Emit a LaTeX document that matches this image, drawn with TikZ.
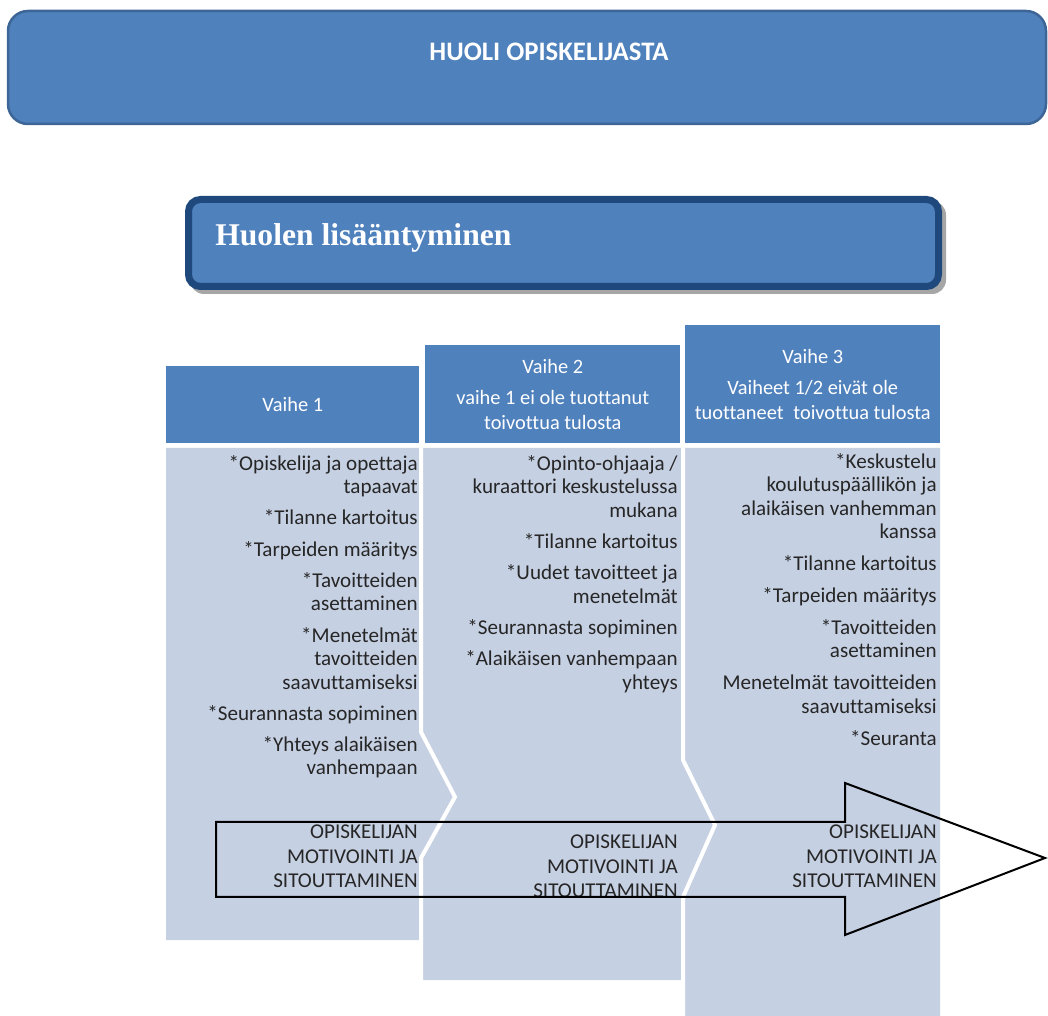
\documentclass[tikz,border=0pt]{standalone}
\usepackage{fontspec}
\setmainfont{Liberation Serif}
\setsansfont{Carlito}[Ligatures=NoCommon]
\usepackage{tikz}
\usetikzlibrary{positioning}

\definecolor{phaseblue}{HTML}{4F81BD}
\definecolor{phaseedge}{HTML}{3D6697}
\definecolor{titledark}{HTML}{1F497D}
\definecolor{bodyblue}{HTML}{C6D0E3}
\definecolor{textgray}{HTML}{262626}
\definecolor{shadowgray}{HTML}{A6A6A6}

\tikzset{
  headbox/.style={fill=phaseblue, text=white, inner sep=0pt, align=center, anchor=north west,
                  font=\sffamily\fontsize{14.5}{17.8}\selectfont},
  itemlist/.style={text=textgray, inner sep=0pt, align=right, anchor=north east,
                   font=\sffamily\fontsize{15}{16.7}\selectfont},
  motivtext/.style={itemlist, font=\sffamily\fontsize{15}{17.4}\selectfont},
  bodyfill/.style={fill=bodyblue, draw=none},
  notchline/.style={draw=white, line width=4*0.025cm}
}

\begin{document}
\begin{tikzpicture}[x=0.025cm, y=-0.025cm]
                    \path[use as bounding box] (0,0) rectangle (1048,1016);

                    \draw[fill=phaseblue, draw=phaseedge, line width=2.5*0.025cm, rounded corners=20*0.025cm]
                        (8,11) rectangle (1046,124);
                    \node[text=white, font=\sffamily\bfseries\fontsize{19}{23}\selectfont] (main) at (549,52) {HUOLI OPISKELIJASTA};

                    \fill[shadowgray, rounded corners=14*0.025cm] (190,201) rectangle (946,294);
                    \draw[fill=phaseblue, draw=titledark, line width=7*0.025cm, rounded corners=12*0.025cm]
                        (188.5,199.5) rectangle (938.5,286.5);
                    \node[anchor=west, inner sep=0pt, text=white, font=\bfseries\fontsize{22.5}{27}\selectfont] (rise) at (215,238) {Huolen lisääntyminen};

                    \path[bodyfill] (166,448) -- (421,448) -- (421,732) -- (455,797) -- (421,858) -- (421,940) -- (166,940) -- cycle;
                    \path[bodyfill] (421,448) -- (683,448) -- (683,760) -- (715,825) -- (683,897) -- (683,980) -- (421,980)
                        -- (421,858) -- (455,797) -- (421,732) -- cycle;
                    \path[bodyfill] (683,448) -- (940,448) -- (940,1016) -- (683,1016) -- (683,897) -- (715,825) -- (683,760) -- cycle;
                    \draw[notchline] (421,448) -- (421,732) -- (455,797) -- (421,858) -- (421,982);
                    \draw[notchline] (683,448) -- (683,760) -- (715,825) -- (683,897) -- (683,1016);

                    \node[headbox, minimum width=253*0.025cm, minimum height=77*0.025cm] (head1) at (166,366) {Vaihe 1};
                    \node[headbox, minimum width=255*0.025cm, minimum height=98*0.025cm] (head2) at (425,345)
                        {Vaihe 2\\[4pt] vaihe 1 ei ole tuottanut\\ toivottua tulosta};
                    \node[headbox, minimum width=255*0.025cm, minimum height=118*0.025cm] (head3) at (685,325)
                        {Vaihe 3\\[4pt] Vaiheet 1/2 eivät ole\\ tuottaneet\hspace{0.25em} toivottua tulosta};

                    \node[itemlist] (list1) at (418,455)
                        {*Opiskelija ja opettaja\\ tapaavat\\[5.5pt] *Tilanne kartoitus\\[5.5pt] *Tarpeiden määritys\\[5.5pt]
                         *Tavoitteiden\\ asettaminen\\[5.5pt] *Menetelmät\\ tavoitteiden\\ saavuttamiseksi\\[5.5pt]
                         *Seurannasta sopiminen\\[5.5pt] *Yhteys alaikäisen\\ vanhempaan};
                    \node[itemlist] (list2) at (678,455)
                        {*Opinto-ohjaaja /\\ kuraattori keskustelussa\\ mukana\\[5.5pt] *Tilanne kartoitus\\[5.5pt]
                         *Uudet tavoitteet ja\\ menetelmät\\[5.5pt] *Seurannasta sopiminen\\[5.5pt]
                         *Alaikäisen vanhempaan\\ yhteys};
                    \node[itemlist] (list3) at (937,453)
                        {*Keskustelu\\ koulutuspäällikön ja\\ alaikäisen vanhemman\\ kanssa\\[6pt] *Tilanne kartoitus\\[6pt]
                         *Tarpeiden määritys\\[6pt] *Tavoitteiden\\ asettaminen\\[6pt] Menetelmät tavoitteiden\\
                         saavuttamiseksi\\[6pt] *Seuranta};

                    \node[motivtext] (motiv1) at (418,825) {OPISKELIJAN\\ MOTIVOINTI JA\\ SITOUTTAMINEN};
                    \node[motivtext] (motiv2) at (678,835) {OPISKELIJAN\\ MOTIVOINTI JA\\ SITOUTTAMINEN};
                    \node[motivtext] (motiv3) at (937,825) {OPISKELIJAN\\ MOTIVOINTI JA\\ SITOUTTAMINEN};

                    \draw[line width=2*0.025cm, line join=miter] (216,822) -- (845,822) -- (845,783) -- (1045,858)
                        -- (845,935) -- (845,897) -- (216,897) -- cycle;
                \end{tikzpicture}
\end{document}
